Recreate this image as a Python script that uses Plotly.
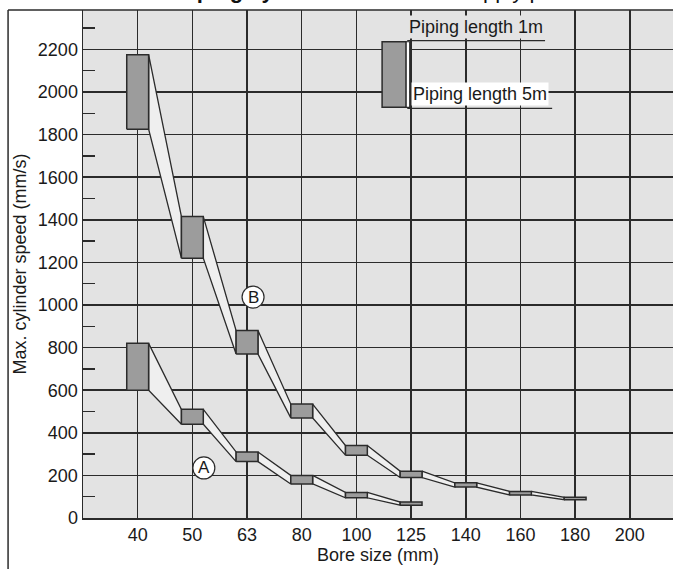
import plotly.graph_objects as go

# ---- data ----
bore_labels = ["40", "50", "63", "80", "100", "125", "140", "160", "180", "200"]
# Series B: top = piping length 1m, bottom = piping length 5m
b_top = [2175, 1415, 880, 535, 340, 220, 165, 125, 97]
b_bot = [1825, 1220, 770, 470, 295, 190, 145, 108, 86]
# Series A
a_top = [820, 510, 310, 200, 120, 75]
a_bot = [600, 440, 265, 160, 95, 60]

y_ticks = list(range(0, 2201, 200))

BG = "#e3e3e3"
DARK = "#2b2b2b"
BOX = "#9c9c9c"
FONT = "Liberation Sans, Arial, sans-serif"
HW = 0.2  # half width of a range box (category units)

fig = go.Figure()


def add_series(tops, bots):
    n = len(tops)
    # band between consecutive boxes
    bx, by = [], []
    for i in range(n - 1):
        bx += [i + HW, i + 1 - HW, i + 1 - HW, i + HW, i + HW, None]
        by += [tops[i], tops[i + 1], bots[i + 1], bots[i], tops[i], None]
    fig.add_trace(go.Scatter(x=bx, y=by, mode="lines", fill="toself",
                             fillcolor="#efefef",
                             line=dict(color=DARK, width=1.3),
                             hoverinfo="skip", showlegend=False))
    # range boxes
    rx, ry = [], []
    for i in range(n):
        rx += [i - HW, i + HW, i + HW, i - HW, i - HW, None]
        ry += [bots[i], bots[i], tops[i], tops[i], bots[i], None]
    fig.add_trace(go.Scatter(x=rx, y=ry, mode="lines", fill="toself",
                             fillcolor=BOX,
                             line=dict(color=DARK, width=1.5),
                             hoverinfo="skip", showlegend=False))


add_series(b_top, b_bot)
add_series(a_top, a_bot)

shapes = []
# outer frame
shapes.append(dict(type="line", xref="paper", yref="paper", x0=-0.127, x1=1.0,
                   y0=1, y1=1, line=dict(color=DARK, width=1.5)))
shapes.append(dict(type="line", xref="paper", yref="paper", x0=-0.127, x1=-0.127,
                   y0=1, y1=-0.2, line=dict(color=DARK, width=1.5)))
# legend box (gray front + white side strip)
shapes.append(dict(type="rect", xref="x", yref="y", x0=4.47, x1=4.91, y0=1928, y1=2236,
                   fillcolor=BOX, line=dict(color=DARK, width=1.5), layer="above"))
shapes.append(dict(type="rect", xref="x", yref="y", x0=4.91, x1=4.975, y0=1928, y1=2236,
                   fillcolor="#ffffff", line=dict(color=DARK, width=1.2), layer="above"))
# legend leader lines
shapes.append(dict(type="line", xref="x", yref="y", x0=4.93, x1=7.45, y0=2241, y1=2241,
                   line=dict(color=DARK, width=1.3), layer="above"))
shapes.append(dict(type="line", xref="x", yref="y", x0=4.93, x1=7.58, y0=1923, y1=1923,
                   line=dict(color=DARK, width=1.3), layer="above"))
# circled labels
for cx, cy in [(1.21, 235), (2.11, 1037)]:
    shapes.append(dict(type="circle", xref="x", yref="y", xsizemode="pixel",
                       ysizemode="pixel", xanchor=cx, yanchor=cy,
                       x0=-11, x1=11, y0=-11, y1=11,
                       fillcolor="#ffffff", line=dict(color=DARK, width=1.2),
                       layer="above"))

annotations = [
    dict(x=1.21, y=235, xref="x", yref="y", text="A", showarrow=False,
         font=dict(family=FONT, size=17, color="#1a1a1a")),
    dict(x=2.11, y=1037, xref="x", yref="y", text="B", showarrow=False,
         font=dict(family=FONT, size=17, color="#1a1a1a")),
    dict(x=4.93, y=2241, xref="x", yref="y", text="Piping length 1m", showarrow=False,
         xanchor="left", yanchor="bottom", yshift=2, bgcolor=BG, borderpad=1,
         font=dict(family=FONT, size=18, color="#1a1a1a")),
    dict(x=5.0, y=1923, xref="x", yref="y", text="Piping length 5m", showarrow=False,
         xanchor="left", yanchor="bottom", yshift=2, bgcolor="#ffffff", borderpad=1,
         font=dict(family=FONT, size=18, color="#1a1a1a")),
    # top title, cut off by the page edge as in the reference
    dict(x=0.155, y=1, xref="paper", yref="paper", xanchor="left", yanchor="bottom",
         yshift=5, showarrow=False,
         text="<b>Piping system</b>   Conditions: supply pressure 0.5 MPa, load factor 50%, speed controller",
         font=dict(family=FONT, size=22, color="#111111")),
]

fig.update_layout(
    width=673, height=569,
    margin=dict(l=83, r=0, t=10, b=51, autoexpand=False),
    paper_bgcolor="#ffffff",
    plot_bgcolor=BG,
    font=dict(family=FONT, size=17, color="#1a1a1a"),
    shapes=shapes,
    annotations=annotations,
    showlegend=False,
    hovermode=False,
    xaxis=dict(
        range=[-1, 9.79],
        automargin=False,
        tickmode="array",
        tickvals=list(range(len(bore_labels))),
        ticktext=bore_labels,
        showgrid=True, gridcolor=DARK, gridwidth=1.5,
        showline=True, linecolor=DARK, linewidth=1.5,
        zeroline=False, ticks="",
        tickfont=dict(family=FONT, size=18),
        title=dict(text="Bore size (mm)", font=dict(family=FONT, size=18), standoff=3),
    ),
    yaxis=dict(
        range=[0, 2385],
        automargin=False,
        tickmode="array",
        tickvals=y_ticks,
        showgrid=True, gridcolor=DARK, gridwidth=1.5,
        showline=True, linecolor=DARK, linewidth=1.5,
        zeroline=False, ticks="",
        tickfont=dict(family=FONT, size=18),
        minor=dict(tickmode="linear", tick0=100, dtick=200, ticks="inside",
                   ticklen=12, tickcolor=DARK, tickwidth=1.5, showgrid=False),
        title=dict(text="Max. cylinder speed (mm/s)", font=dict(family=FONT, size=18),
                   standoff=6),
    ),
)

fig.write_html(
    "out.html",
    config={"displayModeBar": False, "staticPlot": True},
    post_script="document.body.style.margin='0';document.body.style.overflow='hidden';",
)
